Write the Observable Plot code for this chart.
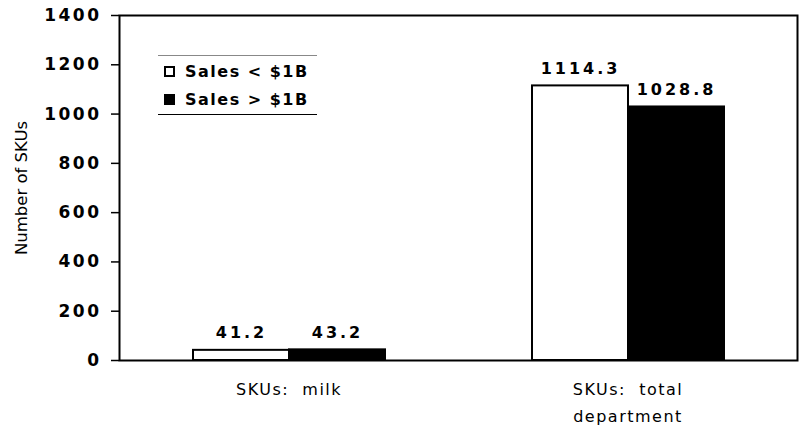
<!DOCTYPE html>
<html>
<head>
<meta charset="utf-8">
<script src="https://cdn.jsdelivr.net/npm/d3@7"></script>
<script src="https://cdn.jsdelivr.net/npm/@observablehq/plot@0.6"></script>
<style>
  body { margin: 0; background: #fff; }
  #wrap { position: relative; width: 802px; height: 428px; font-family: "DejaVu Sans", sans-serif; }
  #legend { position: absolute; left: 158px; top: 55px; width: 159px; height: 60px;
            border-top: 1px solid #888; border-bottom: 1.5px solid #000; box-sizing: border-box; }
  .item { position: absolute; left: 6px; display: flex; align-items: center; font-weight: bold;
          font-size: 16px; letter-spacing: 1.5px; color: #000; }
  .sw { width: 11px; height: 11px; box-sizing: border-box; border: 2px solid #000; margin-right: 10px; }
</style>
</head>
<body>
<div id="wrap"></div>
<script>
const categories = ["SKUs:  milk", "SKUs:  total\ndepartment"];
const series = ["Sales < $1B", "Sales > $1B"];
const lowSales = [41.2, 1114.3];
const highSales = [43.2, 1028.8];
const yTicks = [0, 200, 400, 600, 800, 1000, 1200, 1400];
const yTitle = "Number of SKUs";

const rows = [];
categories.forEach((c, i) => {
  rows.push({category: c, series: series[0], value: lowSales[i]});
  rows.push({category: c, series: series[1], value: highSales[i]});
});

const chart = Plot.plot({
  width: 802,
  height: 428,
  marginTop: 15,
  marginBottom: 68,
  marginLeft: 118,
  marginRight: 5,
  style: {fontFamily: "DejaVu Sans, sans-serif", color: "#000", background: "white"},
  fx: {domain: categories, padding: 0, axis: null},
  x: {domain: series, paddingInner: 0, paddingOuter: 0.75, axis: null},
  y: {domain: [0, 1400]},
  color: {domain: series, range: ["white", "black"]},
  marks: [
    Plot.barY(rows, {fx: "category", x: "series", y: "value", fill: "series", stroke: "black", strokeWidth: 2}),
    Plot.text(rows, {fx: "category", x: "series", y: "value", text: d => d.value.toFixed(1),
      dy: -12, lineAnchor: "bottom", fontSize: 16, fontWeight: "bold", fill: "black"}),
    Plot.text(categories, {fx: d => d, frameAnchor: "bottom", dy: 16, lineAnchor: "top",
      lineHeight: 1.65, fontSize: 16, fill: "black"}),
    Plot.frame({facet: "super", stroke: "black", strokeWidth: 2}),
    Plot.axisY({ticks: yTicks, tickSize: 8, tickPadding: 10, label: null, fontSize: 17,
      fontWeight: "bold", strokeWidth: 1.5, tickFormat: d => String(d)}),
    Plot.text([yTitle], {facet: "super", frameAnchor: "left", textAnchor: "middle", rotate: -90,
      dx: -98, fontSize: 16.5, fill: "black"})
  ]
});

const wrap = document.getElementById("wrap");
wrap.appendChild(chart);

// letter spacing tweaks
d3.select(chart).selectAll('g[aria-label="y-axis tick label"] text').style("letter-spacing", "2.5px");
const textGroups = chart.querySelectorAll('g[aria-label="text"]');
if (textGroups[0]) d3.select(textGroups[0]).selectAll("text").style("letter-spacing", "3px");
if (textGroups[1]) d3.select(textGroups[1]).selectAll("text").style("letter-spacing", "1.5px");

// legend
const legend = document.createElement("div");
legend.id = "legend";
series.forEach((s, i) => {
  const item = document.createElement("div");
  item.className = "item";
  item.style.top = (i === 0 ? 6 : 34) + "px";
  const sw = document.createElement("div");
  sw.className = "sw";
  sw.style.background = i === 0 ? "white" : "black";
  const t = document.createElement("span");
  t.textContent = s;
  item.appendChild(sw);
  item.appendChild(t);
  legend.appendChild(item);
});
wrap.appendChild(legend);
</script>
</body>
</html>
